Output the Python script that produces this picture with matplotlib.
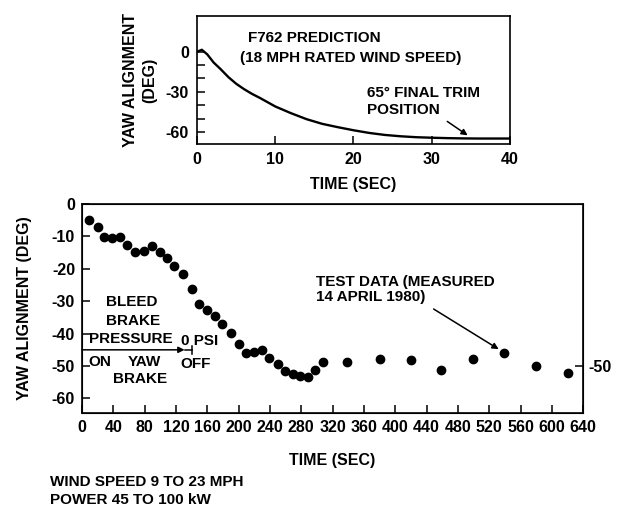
import numpy as np
import matplotlib
matplotlib.use("Agg")
import matplotlib.pyplot as plt

plt.rcParams['font.family'] = ['Liberation Sans', 'DejaVu Sans']
plt.rcParams['font.weight'] = 'bold'
plt.rcParams['axes.labelweight'] = 'bold'
plt.rcParams['axes.unicode_minus'] = False

# ---------------------------------------------------------------
# donnees : prediction F762 (courbe du haut)
t_pred = [0, 0.6, 1.3, 2.1, 3, 4, 5, 6, 7, 8, 10, 12, 14, 16, 18, 20,
          22, 24, 26, 28, 30, 32, 34, 36, 38, 40]
yaw_pred = [0, 1.5, -2, -8, -13, -19, -24, -28, -31.5, -34.5, -41, -46,
            -50.5, -54, -56.5, -58.8, -60.8, -62.3, -63.3, -64, -64.4,
            -64.7, -64.9, -65, -65, -65]

# donnees : essai du 14 avril 1980 (points du bas)
t_test = [9, 20, 28, 38, 48, 58, 68, 79, 89, 99, 109, 118, 129, 140, 150,
          160, 170, 179, 190, 200, 210, 219, 230, 239, 250, 259, 269, 279,
          288, 298, 308, 339, 380, 420, 459, 499, 539, 580, 621]
yaw_test = [-4.8, -7.2, -10.1, -10.6, -10.1, -12.7, -14.7, -14.4, -12.9,
            -14.7, -16.5, -19.1, -21.6, -26.2, -30.9, -32.6, -34.5, -37,
            -39.9, -43.2, -46, -45.8, -45, -47.5, -49.4, -51.5, -52.5,
            -53.2, -53.5, -51.1, -48.7, -48.9, -47.8, -48.2, -51.1, -47.9,
            -46, -49.9, -52.2]

top_xticks = [0, 10, 20, 30, 40]
top_yticks = [0, -30, -60]
bot_xticks = list(range(0, 641, 40))
bot_yticks = [0, -10, -20, -30, -40, -50, -60]

fs = 11.5
fa = 11
fig = plt.figure(figsize=(6.18, 5.12), dpi=100)

# ---------------------------------------------------------------
# graphe du haut
ax1 = fig.add_axes([0.319, 0.719, 0.506, 0.249])
ax1.plot(t_pred, yaw_pred, color='black', lw=1.7)
ax1.set_xlim(0, 40)
ax1.set_ylim(-69, 26.5)
ax1.set_xticks(top_xticks)
ax1.set_yticks(top_yticks)
ax1.set_yticks(range(-60, 1, 10), minor=True)
ax1.tick_params(direction='in', length=6, width=1.1, labelsize=fs, pad=6)
ax1.tick_params(which='minor', direction='in', length=6, width=1.1)
ax1.set_xlabel("TIME (SEC)", fontsize=fs, labelpad=7)
ax1.set_ylabel("YAW ALIGNMENT\n(DEG)", fontsize=fs, linespacing=1.35, labelpad=6)
for s in ax1.spines.values():
    s.set_linewidth(1.2)

ax1.text(6.5, 10.3, "F762 PREDICTION", fontsize=fa, va='center')
ax1.text(5.5, -4.7, "(18 MPH RATED WIND SPEED)", fontsize=fa, va='center')
ax1.text(21.7, -31, "65\u00b0 FINAL TRIM", fontsize=fa, va='center')
ax1.text(21.7, -43.5, "POSITION", fontsize=fa, va='center')
ax1.annotate("", xy=(34.9, -63.8), xytext=(31.7, -51),
             arrowprops=dict(arrowstyle='-|>', color='black', lw=1.1,
                             mutation_scale=9))

# ---------------------------------------------------------------
# graphe du bas
ax2 = fig.add_axes([0.1327, 0.1934, 0.811, 0.408])
ax2.plot(t_test, yaw_test, 'o', color='black', ms=6)
ax2.set_xlim(0, 640)
ax2.set_ylim(-64.5, 0)
ax2.set_xticks(bot_xticks)
ax2.set_yticks(bot_yticks)
ax2.tick_params(direction='in', length=6, width=1.1, labelsize=fs, pad=5)
ax2.set_xlabel("TIME (SEC)", fontsize=fs, labelpad=13)
ax2.set_ylabel("YAW ALIGNMENT (DEG)", fontsize=fs, labelpad=14)
for s in ax2.spines.values():
    s.set_linewidth(1.2)

ax2r = ax2.twinx()
ax2r.set_ylim(ax2.get_ylim())
ax2r.set_yticks([-50])
ax2r.tick_params(direction='in', length=6, width=1.1, labelsize=fs, pad=4)

# frein de lacet
ax2.text(63, -30.2, "BLEED", fontsize=fa, ha='center', va='center')
ax2.text(65, -36, "BRAKE", fontsize=fa, ha='center', va='center')
ax2.text(62.4, -41.7, "PRESSURE", fontsize=fa, ha='center', va='center')
ax2.annotate("", xy=(131, -45), xytext=(0, -45),
             arrowprops=dict(arrowstyle='-|>', color='black', lw=1.1,
                             mutation_scale=9, shrinkA=0, shrinkB=0))
ax2.plot([131, 140], [-45, -45], color='black', lw=1.1)
ax2.plot([140, 140], [-43.8, -46.3], color='black', lw=1.1)
ax2.text(127, -42.3, "0 PSI", fontsize=fa, va='center')
ax2.text(8.3, -48.7, "ON", fontsize=fa, va='center')
ax2.text(79.4, -48.7, "YAW", fontsize=fa, va='center', ha='center')
ax2.text(74, -54, "BRAKE", fontsize=fa, va='center', ha='center')
ax2.text(125, -49.4, "OFF", fontsize=fa, va='center')

ax2.text(298.7, -24.1, "TEST DATA (MEASURED", fontsize=fa, va='center')
ax2.text(298.7, -28.7, "14 APRIL 1980)", fontsize=fa, va='center')
ax2.annotate("", xy=(532, -44.8), xytext=(449, -32.4),
             arrowprops=dict(arrowstyle='-|>', color='black', lw=1.1,
                             mutation_scale=9, shrinkA=0, shrinkB=0))

fig.text(50 / 618, 1 - 482 / 512, "WIND SPEED 9 TO 23 MPH", fontsize=fa, va='center')
fig.text(50 / 618, 1 - 500 / 512, "POWER 45 TO 100 kW", fontsize=fa, va='center')

fig.savefig("out.png", dpi=100)
